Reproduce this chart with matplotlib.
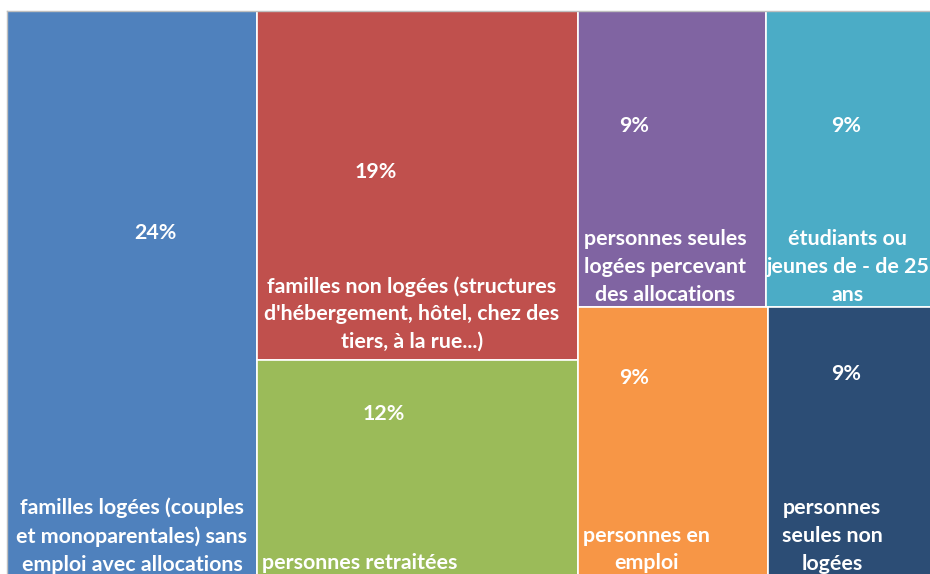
import matplotlib
matplotlib.use("Agg")
import matplotlib.pyplot as plt
from matplotlib.patches import Rectangle

# ---- data ----
categories = [
    "familles logées (couples\net monoparentales) sans\nemploi avec allocations",
    "familles non logées (structures\nd'hébergement, hôtel, chez des\ntiers, à la rue...)",
    "personnes retraitées",
    "personnes seules\nlogées percevant\ndes allocations",
    "étudiants ou\njeunes de - de 25\nans",
    "personnes en\nemploi",
    "personnes\nseules non\nlogées",
]
shares = [24.2, 19.0, 12.0, 9.4, 9.4, 8.8, 8.6]
colors = ["#4F81BD", "#C0504D", "#9BBB59", "#8064A2", "#4BACC6", "#F79646", "#2C4D75"]

# tree structure: columns -> rows -> cells (indices into the lists above)
tree = [0, [1, 2], [[3, 4], [5, 6]]]

# label placement inside each cell (fractions of cell width/height)
pct_pos = [(0.591, 0.390), (0.369, 0.462), (0.394, 0.246), (0.297, 0.389),
           (0.429, 0.389), (0.293, 0.261), (0.422, 0.247)]
cat_pos = [(0.499, 0.923), (0.481, 0.869), (0.319, 0.923), (0.462, 0.866),
           (0.439, 0.866), (0.362, 0.888), (0.346, 0.839)]


def total(node):
    if isinstance(node, list):
        return sum(total(n) for n in node)
    return shares[node]


def layout(node, x, y, w, h, horizontal, out):
    if not isinstance(node, list):
        out[node] = (x, y, w, h)
        return
    s = total(node)
    pos = 0.0
    for child in node:
        f = total(child) / s
        if horizontal:
            layout(child, x + pos * w, y, w * f, h, not horizontal, out)
        else:
            layout(child, x, y + pos * h, w, h * f, not horizontal, out)
        pos += f


rects = {}
layout(tree, 0.0, 0.0, 1.0, 1.0, True, rects)

W, H = 930, 574
fig = plt.figure(figsize=(W / 100, H / 100), dpi=100)
# the treemap is larger than the visible canvas (cropped at right/bottom)
ax = fig.add_axes([7 / W, (H - 580) / H, 946 / W, 569 / H])
ax.set_xlim(0, 1)
ax.set_ylim(1, 0)
ax.axis("off")

font = dict(family=["Lato", "DejaVu Sans"], fontweight="bold", color="white",
            fontsize=15.4)

for i in range(len(shares)):
    x, y, w, h = rects[i]
    ax.add_patch(Rectangle((x, y), w, h, facecolor=colors[i], edgecolor="white",
                           linewidth=1.2))
    px, py = pct_pos[i]
    ax.text(x + px * w, y + py * h, f"{shares[i]:.0f}%", ha="center", va="center",
            **font)
    cx, cy = cat_pos[i]
    ax.text(x + cx * w, y + cy * h, categories[i], ha="center", va="center",
            multialignment="center", linespacing=1.48, **font)

# light grey frame on the visible top and left edges
ax.plot([0, 0], [1, 0], color="#BFBFBF", lw=1.0, clip_on=False)
ax.plot([0, 1], [0, 0], color="#BFBFBF", lw=1.0, clip_on=False)

fig.savefig("out.png", dpi=100, facecolor="white")
